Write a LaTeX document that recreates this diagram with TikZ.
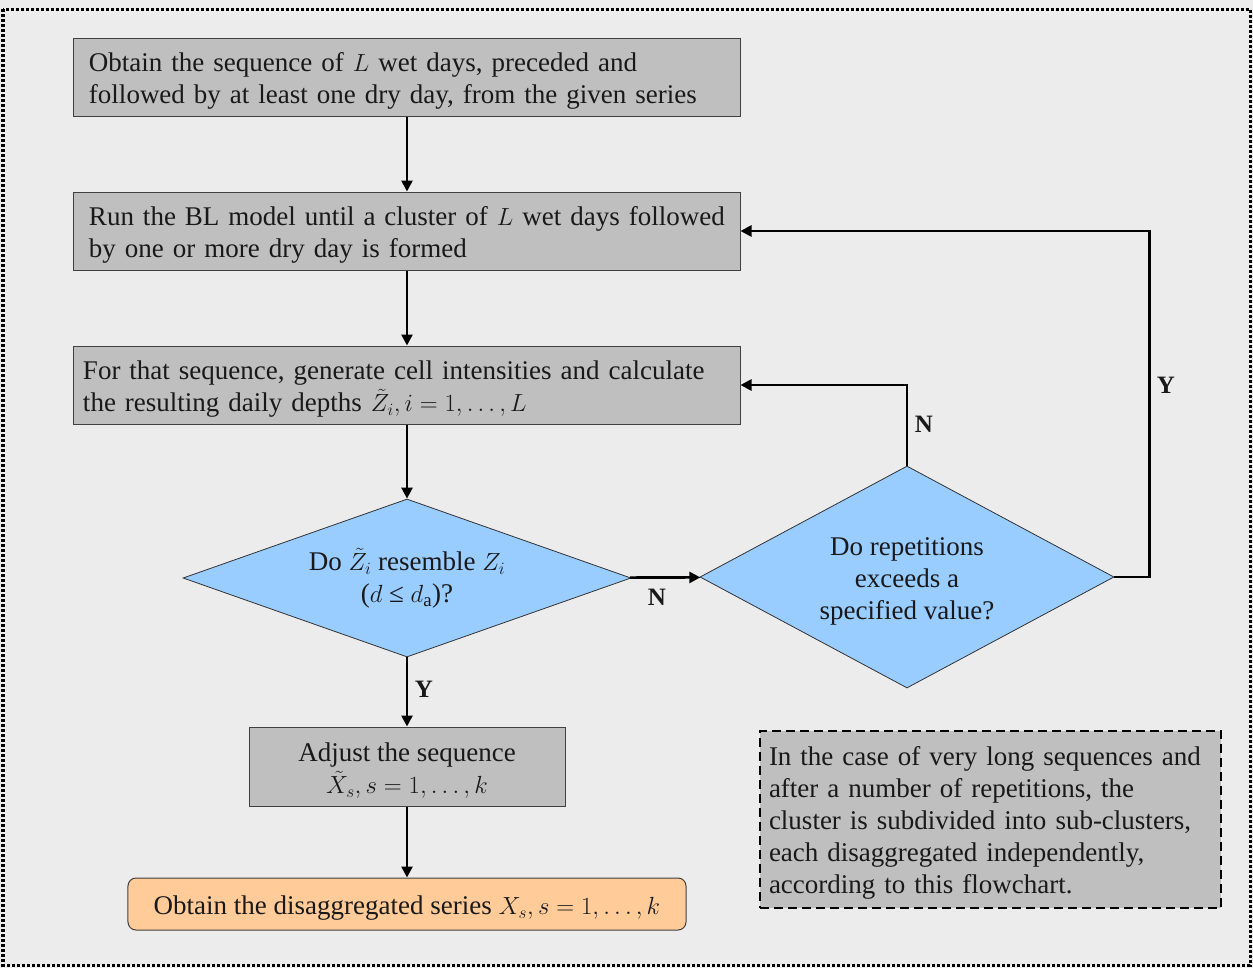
\documentclass[tikz,border=0pt]{standalone}
\usepackage{fontspec}
\setmainfont{Liberation Serif}
\usetikzlibrary{shapes.geometric,arrows.meta}
\definecolor{bgc}{HTML}{ECECEC}
\definecolor{boxgray}{HTML}{BFBFBF}
\definecolor{diablue}{HTML}{99CCFF}
\definecolor{orangefill}{HTML}{FFCC99}
\definecolor{edgec}{HTML}{404040}
\newcommand\topgap{\rule{0pt}{26.4bp}}
\tikzset{
  txt/.style={font=\fontsize{27bp}{32bp}\selectfont, text=black!90},
  procbox/.style={txt, draw=edgec, line width=1bp, fill=boxgray, rectangle, inner ysep=0pt},
  decision/.style={txt, draw=black!80, line width=0.8bp, fill=diablue, diamond, inner sep=0pt, align=center},
  conn/.style={line width=2.6bp, -{Triangle[length=11bp,width=11bp]}},
  lbl/.style={font=\fontsize{25bp}{28bp}\selectfont\bfseries, text=black!90},
}
\begin{document}
\begin{tikzpicture}[x=1bp,y=-1bp]
\useasboundingbox (0,0) rectangle (1253,968);
\fill[bgc] (0,0) rectangle (1253,968);
\draw[line width=3bp, dash pattern=on 3bp off 2bp] (3,9) rectangle (1250,965);

\node[procbox, minimum width=666bp, minimum height=78bp, text width=636bp, inner xsep=15bp, align=left] (b1) at (407,77)
  {\topgap Obtain the sequence of $L$ wet days, preceded and\\followed by at least one dry day, from the given series};
\node[procbox, minimum width=666bp, minimum height=78bp, text width=636bp, inner xsep=15bp, align=left] (b2) at (407,231)
  {\topgap Run the BL model until a cluster of $L$ wet days followed\\by one or more dry day is formed};
\node[procbox, minimum width=666bp, minimum height=78bp, text width=648bp, inner xsep=9bp, align=left] (b3) at (407,385)
  {\topgap For that sequence, generate cell intensities and calculate\\the resulting daily depths $\tilde{Z}_i, i = 1, \ldots, L$};
\node[decision, minimum width=448bp, minimum height=158bp, shape aspect=2.84] (d1) at (407,578)
  {\rule{0pt}{22bp}Do $\tilde{Z}_i$ resemble $Z_i$\\($d$ ≤ $d_{\mathrm{a}}$)?};
\node[decision, minimum width=414bp, minimum height=222bp, shape aspect=1.86] (d2) at (907,577)
  {\topgap Do repetitions\\exceeds a\\specified value?};
\node[procbox, minimum width=316bp, minimum height=79bp, align=center] (b4) at (407,766.5)
  {\topgap Adjust the sequence\\$\tilde{X}_s, s = 1, \ldots, k$};
\node[procbox, fill=orangefill, rounded corners=8bp, minimum width=558bp, minimum height=52bp, align=center] (b5) at (407,904)
  {\topgap Obtain the disaggregated series $X_s, s = 1, \ldots, k$};
\node[procbox, draw=black, line width=2.5bp, dash pattern=on 9bp off 5bp, minimum width=461bp, minimum height=177bp, text width=443bp, inner xsep=9bp, align=left] (note) at (990.5,819.5)
  {\topgap In the case of very long sequences and\\after a number of repetitions, the\\cluster is subdivided into sub-clusters,\\each disaggregated independently,\\according to this flowchart.};

\draw[conn] (b1) -- (b2);
\draw[conn] (b2) -- (b3);
\draw[conn] (b3) -- (d1);
\draw[conn] (d1) -- (d2);
\draw[conn] (d1) -- (b4);
\draw[conn] (b4) -- (b5);
\draw[conn] (d2.north) |- (b3.east);
\draw[conn] (d2.east) -- ++(35,0) |- (b2.east);

\node[lbl] (ln1) at (657,597) {N};
\node[lbl] (ly1) at (424,689) {Y};
\node[lbl] (ln2) at (924,424) {N};
\node[lbl] (ly2) at (1166,385) {Y};
\end{tikzpicture}
\end{document}
